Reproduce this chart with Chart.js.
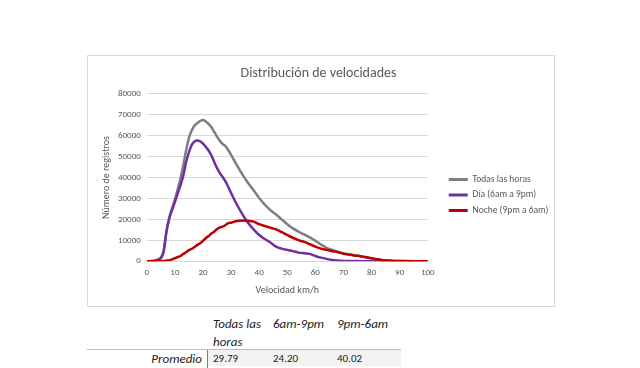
<!DOCTYPE html>
<html>
<head>
<meta charset="utf-8">
<script src="https://cdn.jsdelivr.net/npm/chart.js@4"></script>
<style>
  html, body { margin: 0; padding: 0; background: #fff; }
  body { width: 640px; height: 368px; position: relative; overflow: hidden; font-family: Carlito, Lato, sans-serif; }
  #box { position: absolute; left: 87px; top: 55px; width: 466px; height: 250px; border: 1px solid #d9d9d9; }
  #box canvas { display: block; }
  .t { position: absolute; color: #222; font-style: italic; font-size: 13px; line-height: 16px; white-space: nowrap; }
  .v { position: absolute; color: #222; font-size: 11px; line-height: 14px; white-space: nowrap; }
</style>
</head>
<body>
<div id="box"><canvas id="chart" width="466" height="250"></canvas></div>

<div class="t" style="left:213px; top:316px;">Todas las</div>
<div class="t" style="left:213px; top:334px;">horas</div>
<div class="t" style="left:273px; top:316px;">6am-9pm</div>
<div class="t" style="left:337px; top:316px;">9pm-6am</div>
<div style="position:absolute; left:87px; top:349px; width:314px; height:1px; background:#bfbfbf;"></div>
<div style="position:absolute; left:208px; top:350px; width:193px; height:16px; background:#f2f2f2;"></div>
<div style="position:absolute; left:207px; top:350px; width:1px; height:18px; background:#7f7f7f;"></div>
<div class="t" style="left:120px; width:82px; text-align:right; top:351px;">Promedio</div>
<div class="v" style="left:213px; top:352px;">29.79</div>
<div class="v" style="left:273px; top:352px;">24.20</div>
<div class="v" style="left:337px; top:352px;">40.02</div>

<script>
// Speed (km/h) on the x axis
const velocidad = [0, 2, 3, 4, 5, 6, 7, 8, 9, 10, 11, 12, 13, 14, 15, 16, 17, 18, 19, 20,
    21, 22, 23, 24, 25, 26, 27, 28, 29, 30, 32, 34, 36, 38, 40, 42, 44, 46, 48, 50,
    52, 54, 56, 58, 60, 62, 64, 66, 68, 70, 72, 74, 76, 78, 80, 82, 84, 86, 88, 90, 95, 100];

// Number of records per speed
const todas = [0, 100, 300, 800, 1800, 5000, 14500, 21000, 25500, 29500, 34500, 39500, 46000, 53000, 59000, 62500, 64800, 66000, 67000, 67500,
    66800, 65600, 64000, 61800, 59500, 57500, 56000, 55000, 53000, 50800, 46000, 41500, 37500, 33900, 30200, 27000, 24400, 22300, 20000, 17700,
    15700, 14100, 12800, 11400, 9800, 7900, 6400, 5400, 4500, 3750, 3300, 2750, 2430, 1910, 1400, 900, 500, 300, 150, 50, 0, 0];

const dia = [0, 100, 200, 800, 1400, 4600, 14000, 20400, 24400, 28300, 32300, 36300, 41000, 47400, 52100, 55600, 57200, 57700, 57300, 56200,
    54600, 52900, 50500, 47400, 44500, 42100, 40200, 38200, 35500, 32600, 27200, 22500, 18400, 15200, 12500, 10600, 8900, 7000, 6000, 5400,
    4800, 4100, 3800, 3500, 2500, 1700, 1100, 600, 300, 150, 100, 50, 30, 10, 0, 0, 0, 0, 0, 0, 0, 0];

const noche = [0, 0, 0, 0, 50, 100, 300, 500, 900, 1400, 2000, 2500, 3500, 4300, 5300, 5900, 6800, 7800, 8600, 9800,
    11000, 12000, 13200, 14100, 15400, 16200, 16500, 17300, 18200, 18400, 19200, 19500, 19300, 18900, 17700, 16800, 16000, 15200, 13900, 12500,
    11200, 10100, 9200, 8100, 7000, 6000, 5400, 4800, 4300, 3600, 3200, 2700, 2400, 1900, 1400, 900, 500, 300, 150, 50, 0, 0];

const toXY = ys => velocidad.map((x, i) => ({ x, y: ys[i] }));

const txt = '#595959';
const fontFam = 'Carlito, Lato, sans-serif';

// put the legend a fixed distance right of the plot, and a bit lower, like the Excel original
const legendShift = {
    id: 'legendShift',
    afterLayout(chart) {
        const lg = chart.legend;
        const w = lg.right - lg.left;
        lg.left = chart.chartArea.right + 21 - 6;
        lg.right = lg.left + w;
        lg.top += 17; lg.bottom += 17;
    },
};

const lineStyle = c => ({ borderColor: c, backgroundColor: c, pointBorderColor: c, pointBorderWidth: 3 });

new Chart(document.getElementById('chart').getContext('2d'), {
    type: 'line',
    data: {
        datasets: [
            { label: 'Todas las horas', data: toXY(todas), ...lineStyle('#7f7f7f'), order: 3 },
            { label: 'Día (6am a 9pm)', data: toXY(dia), ...lineStyle('#7030a0'), order: 2 },
            { label: 'Noche (9pm a 6am)', data: toXY(noche), ...lineStyle('#c00000'), order: 1 },
        ],
    },
    plugins: [legendShift],
    options: {
        responsive: false,
        animation: false,
        layout: { padding: { left: 12, right: 17, top: 0, bottom: 6 } },
        elements: {
            line: { borderWidth: 2.5, tension: 0.2, cubicInterpolationMode: 'monotone' },
            point: { radius: 0 },
        },
        plugins: {
            title: {
                display: true,
                text: 'Distribución de velocidades',
                color: txt,
                font: { family: fontFam, size: 14, weight: 'normal' },
                padding: { top: 9, bottom: 12 },
            },
            legend: {
                position: 'right',
                labels: {
                    color: txt,
                    font: { family: fontFam, size: 9.5 },
                    usePointStyle: true,
                    pointStyle: 'line',
                    pointStyleWidth: 19,
                    boxWidth: 19,
                    padding: 6,
                    sort: (a, b) => a.datasetIndex - b.datasetIndex,
                },
            },
            tooltip: { enabled: false },
        },
        scales: {
            x: {
                type: 'linear',
                min: 0,
                max: 100,
                grid: { display: false },
                border: { display: false },
                ticks: { stepSize: 10, color: txt, font: { family: fontFam, size: 9 }, padding: -2, callback: v => String(v) },
                title: { display: true, text: 'Velocidad km/h', color: txt, font: { family: fontFam, size: 10 }, padding: { top: 8 } },
            },
            y: {
                min: 0,
                max: 80000,
                grid: { color: '#d9d9d9', drawTicks: false },
                border: { display: false },
                ticks: { stepSize: 10000, color: txt, font: { family: fontFam, size: 9 }, padding: 6, callback: v => String(v) },
                title: { display: true, text: 'Número de registros', color: txt, font: { family: fontFam, size: 10 }, padding: { top: 0, bottom: 0 } },
            },
        },
    },
});
</script>
</body>
</html>
